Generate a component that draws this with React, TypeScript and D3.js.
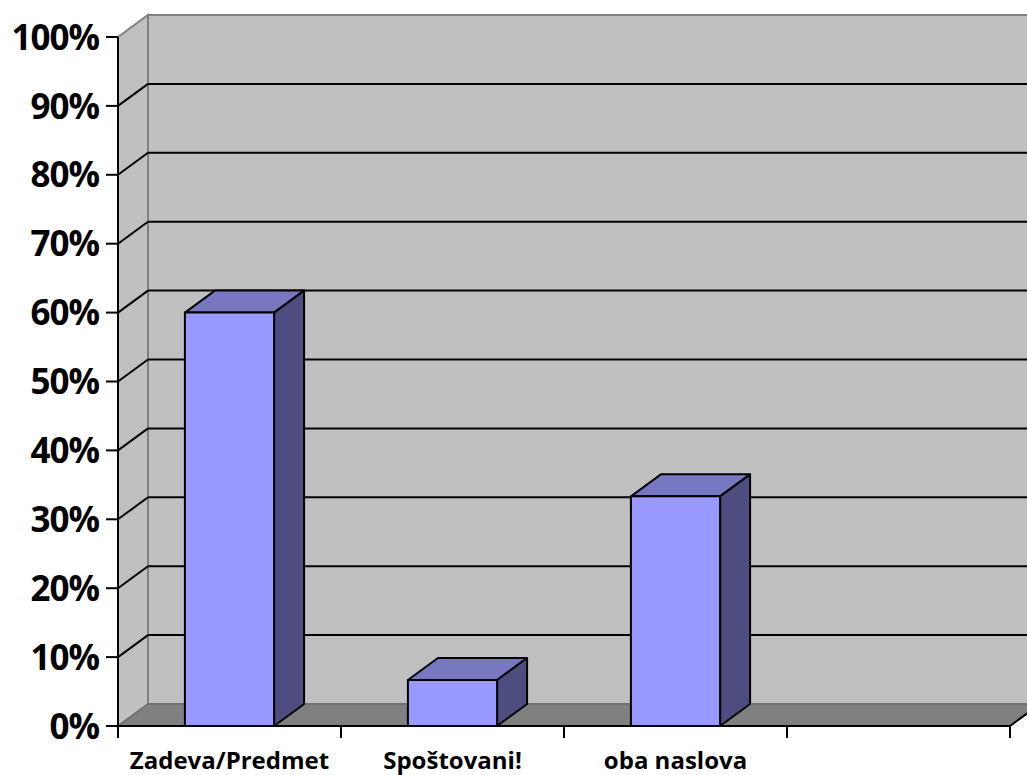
import React from "react";
import * as d3 from "d3";

const categories = ["Zadeva/Predmet", "Spoštovani!", "oba naslova", ""];
const shares = [0.6, 0.0667, 0.3333, 0];
const tickValues = [0, 0.1, 0.2, 0.3, 0.4, 0.5, 0.6, 0.7, 0.8, 0.9, 1];

const W = 1027;
const H = 775;
const DX = 30;
const DY = -22;
const FONT = "'Open Sans', 'DejaVu Sans', sans-serif";

export default function App() {
  const x = d3.scaleBand<string>().domain(categories.map((c, i) => `${i}`)).range([118, 1010]);
  const y = d3.scaleLinear().domain([0, 1]).range([726, 37]);
  const fmt = d3.format(".0%");
  const bw = x.bandwidth() * 0.4;

  const x0 = 118;
  const x1 = 1010;
  const yb = y(0);
  const yt = y(1);

  const pts = (p: [number, number][]) => p.map((q) => q.join(",")).join(" ");

  return (
    <svg width={W} height={H} style={{ position: "absolute", left: 0, top: 0, display: "block" }}>
      <rect width={W} height={H} fill="#ffffff" />
      {/* back wall */}
      <polygon
        points={pts([[x0 + DX, yt + DY], [x1 + DX, yt + DY], [x1 + DX, yb + DY], [x0 + DX, yb + DY]])}
        fill="#c0c0c0"
        stroke="#808080"
        strokeWidth={2}
      />
      {/* side wall */}
      <polygon
        points={pts([[x0, yt], [x0 + DX, yt + DY], [x0 + DX, yb + DY], [x0, yb]])}
        fill="#c0c0c0"
        stroke="#808080"
        strokeWidth={2}
      />
      {/* floor */}
      <polygon
        points={pts([[x0, yb], [x1, yb], [x1 + DX, yb + DY], [x0 + DX, yb + DY]])}
        fill="#808080"
        stroke="#6e6e6e"
        strokeWidth={1.5}
      />
      {/* gridlines */}
      {tickValues.filter((t) => t > 0 && t < 1).map((t) => (
        <g key={t}>
          <line x1={x0 + DX} x2={x1 + DX} y1={y(t) + DY} y2={y(t) + DY} stroke="#000" strokeWidth={2} />
          <line x1={x0} x2={x0 + DX} y1={y(t)} y2={y(t) + DY} stroke="#000" strokeWidth={2} />
        </g>
      ))}
      {/* floor right edge */}
      <line x1={x1} y1={yb} x2={x1 + DX} y2={yb + DY} stroke="#000" strokeWidth={2} />
      {/* bars */}
      {shares.map((v, i) => {
        if (v <= 0) return null;
        const bx = (x(`${i}`) as number) + (x.bandwidth() - bw) / 2;
        const top = y(v);
        return (
          <g key={i} stroke="#000" strokeWidth={2} strokeLinejoin="round">
            <polygon
              points={pts([[bx, top], [bx + DX, top + DY], [bx + bw + DX, top + DY], [bx + bw, top]])}
              fill="#7878c2"
            />
            <polygon
              points={pts([[bx + bw, top], [bx + bw + DX, top + DY], [bx + bw + DX, yb + DY], [bx + bw, yb]])}
              fill="#4d4d80"
            />
            <rect x={bx} y={top} width={bw} height={yb - top} fill="#9999ff" />
          </g>
        );
      })}
      {/* axes */}
      <line x1={x0} x2={x0} y1={yt} y2={yb} stroke="#000" strokeWidth={2} />
      <line x1={x0} x2={x1} y1={yb} y2={yb} stroke="#000" strokeWidth={2} />
      {tickValues.map((t) => (
        <g key={t}>
          <line x1={x0 - 12} x2={x0} y1={y(t)} y2={y(t)} stroke="#000" strokeWidth={2} />
          <text
            x={99}
            y={y(t)}
            dy="0.36em"
            textAnchor="end"
            fontFamily={FONT}
            fontWeight="bold"
            fontSize={35}
            letterSpacing={-1}
            fill="#000"
          >
            {fmt(t)}
          </text>
        </g>
      ))}
      {categories.map((c, i) => (
        <line
          key={`t${i}`}
          x1={x(`${i}`) as number}
          x2={x(`${i}`) as number}
          y1={yb}
          y2={yb + 12}
          stroke="#000"
          strokeWidth={2}
        />
      ))}
      <line x1={x1} x2={x1} y1={yb} y2={yb + 12} stroke="#000" strokeWidth={2} />
      {categories.map((c, i) => (
        <text
          key={`c${i}`}
          x={(x(`${i}`) as number) + x.bandwidth() / 2}
          y={769}
          textAnchor="middle"
          fontFamily={FONT}
          fontWeight="bold"
          fontSize={24}
          fill="#000"
        >
          {c}
        </text>
      ))}
    </svg>
  );
}
